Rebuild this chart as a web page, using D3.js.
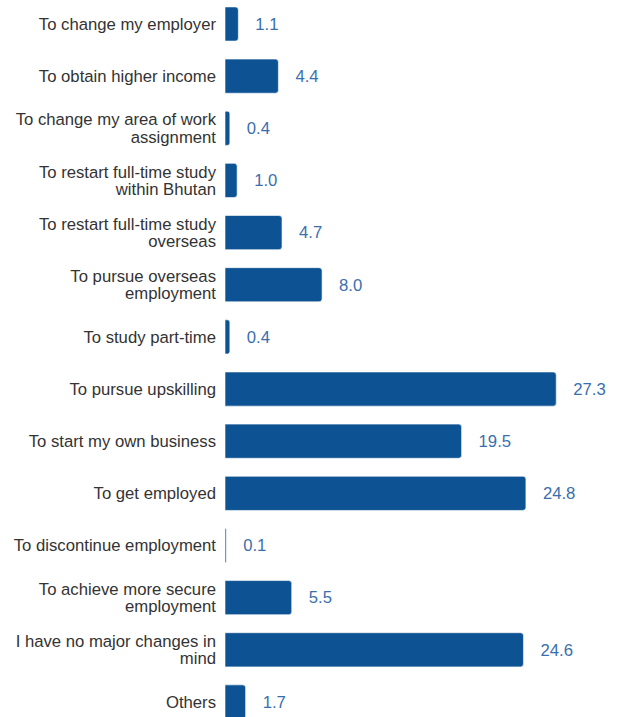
<!DOCTYPE html>
<html>
<head>
<meta charset="utf-8">
<script src="https://cdn.jsdelivr.net/npm/d3@7"></script>
<style>
  html, body { margin: 0; padding: 0; background: #fff; }
  svg { display: block; font-family: "Liberation Sans", Arial, sans-serif; }
</style>
</head>
<body>
<svg id="chart" width="623" height="717"></svg>
<script>
// Reasons for planned changes (percent of respondents)
const categories = [
  ["To change my employer"],
  ["To obtain higher income"],
  ["To change my area of work", "assignment"],
  ["To restart full-time study", "within Bhutan"],
  ["To restart full-time study", "overseas"],
  ["To pursue overseas", "employment"],
  ["To study part-time"],
  ["To pursue upskilling"],
  ["To start my own business"],
  ["To get employed"],
  ["To discontinue employment"],
  ["To achieve more secure", "employment"],
  ["I have no major changes in", "mind"],
  ["Others"]
];
const values = [1.1, 4.4, 0.4, 1.0, 4.7, 8.0, 0.4, 27.3, 19.5, 24.8, 0.1, 5.5, 24.6, 1.7];
const valueLabels = ["1.1", "4.4", "0.4", "1.0", "4.7", "8.0", "0.4", "27.3", "19.5", "24.8", "0.1", "5.5", "24.6", "1.7"];
const axisMax = 30;

const svg = d3.select("#chart");
const plotLeft = 225, plotRight = 589;
const firstCenter = 24, step = 52.15;
const fontSize = 16.7;

const x = d3.scaleLinear().domain([0, axisMax]).range([plotLeft, plotRight]);
const y = d3.scaleBand()
  .domain(d3.range(categories.length))
  .range([firstCenter - step / 2, firstCenter - step / 2 + step * categories.length])
  .paddingInner(0.345).paddingOuter(0.1725);

const barColor = "#0d5292";
const r = 3;

// Bars with rounded right end
function barPath(v, i) {
  const x0 = x(0), x1 = x(v), y0 = y(i), h = y.bandwidth();
  const w = x1 - x0;
  const rr = Math.min(r, w / 2);
  return `M${x0},${y0}H${x1 - rr}Q${x1},${y0} ${x1},${y0 + rr}V${y0 + h - rr}Q${x1},${y0 + h} ${x1 - rr},${y0 + h}H${x0}Z`;
}

svg.append("g").selectAll("path")
  .data(values)
  .join("path")
  .attr("d", (d, i) => barPath(d, i))
  .attr("fill", barColor)
  .attr("stroke", "#ffffff")
  .attr("stroke-width", 0.6);

// Value labels
svg.append("g").selectAll("text")
  .data(values)
  .join("text")
  .attr("x", d => x(d) + 17)
  .attr("y", (d, i) => y(i) + y.bandwidth() / 2)
  .attr("dy", "0.35em")
  .attr("fill", "#3a6fae")
  .attr("font-size", fontSize)
  .text((d, i) => valueLabels[i]);

// Category labels (wrapped)
const lineH = 17.5;
const catG = svg.append("g");
categories.forEach((lines, i) => {
  const cy = y(i) + y.bandwidth() / 2;
  const t = catG.append("text")
    .attr("text-anchor", "end")
    .attr("fill", "#333333")
    .attr("font-size", fontSize);
  lines.forEach((ln, k) => {
    t.append("tspan")
      .attr("x", 216)
      .attr("y", cy + (k - (lines.length - 1) / 2) * lineH)
      .attr("dy", "0.35em")
      .text(ln);
  });
});
</script>
</body>
</html>
